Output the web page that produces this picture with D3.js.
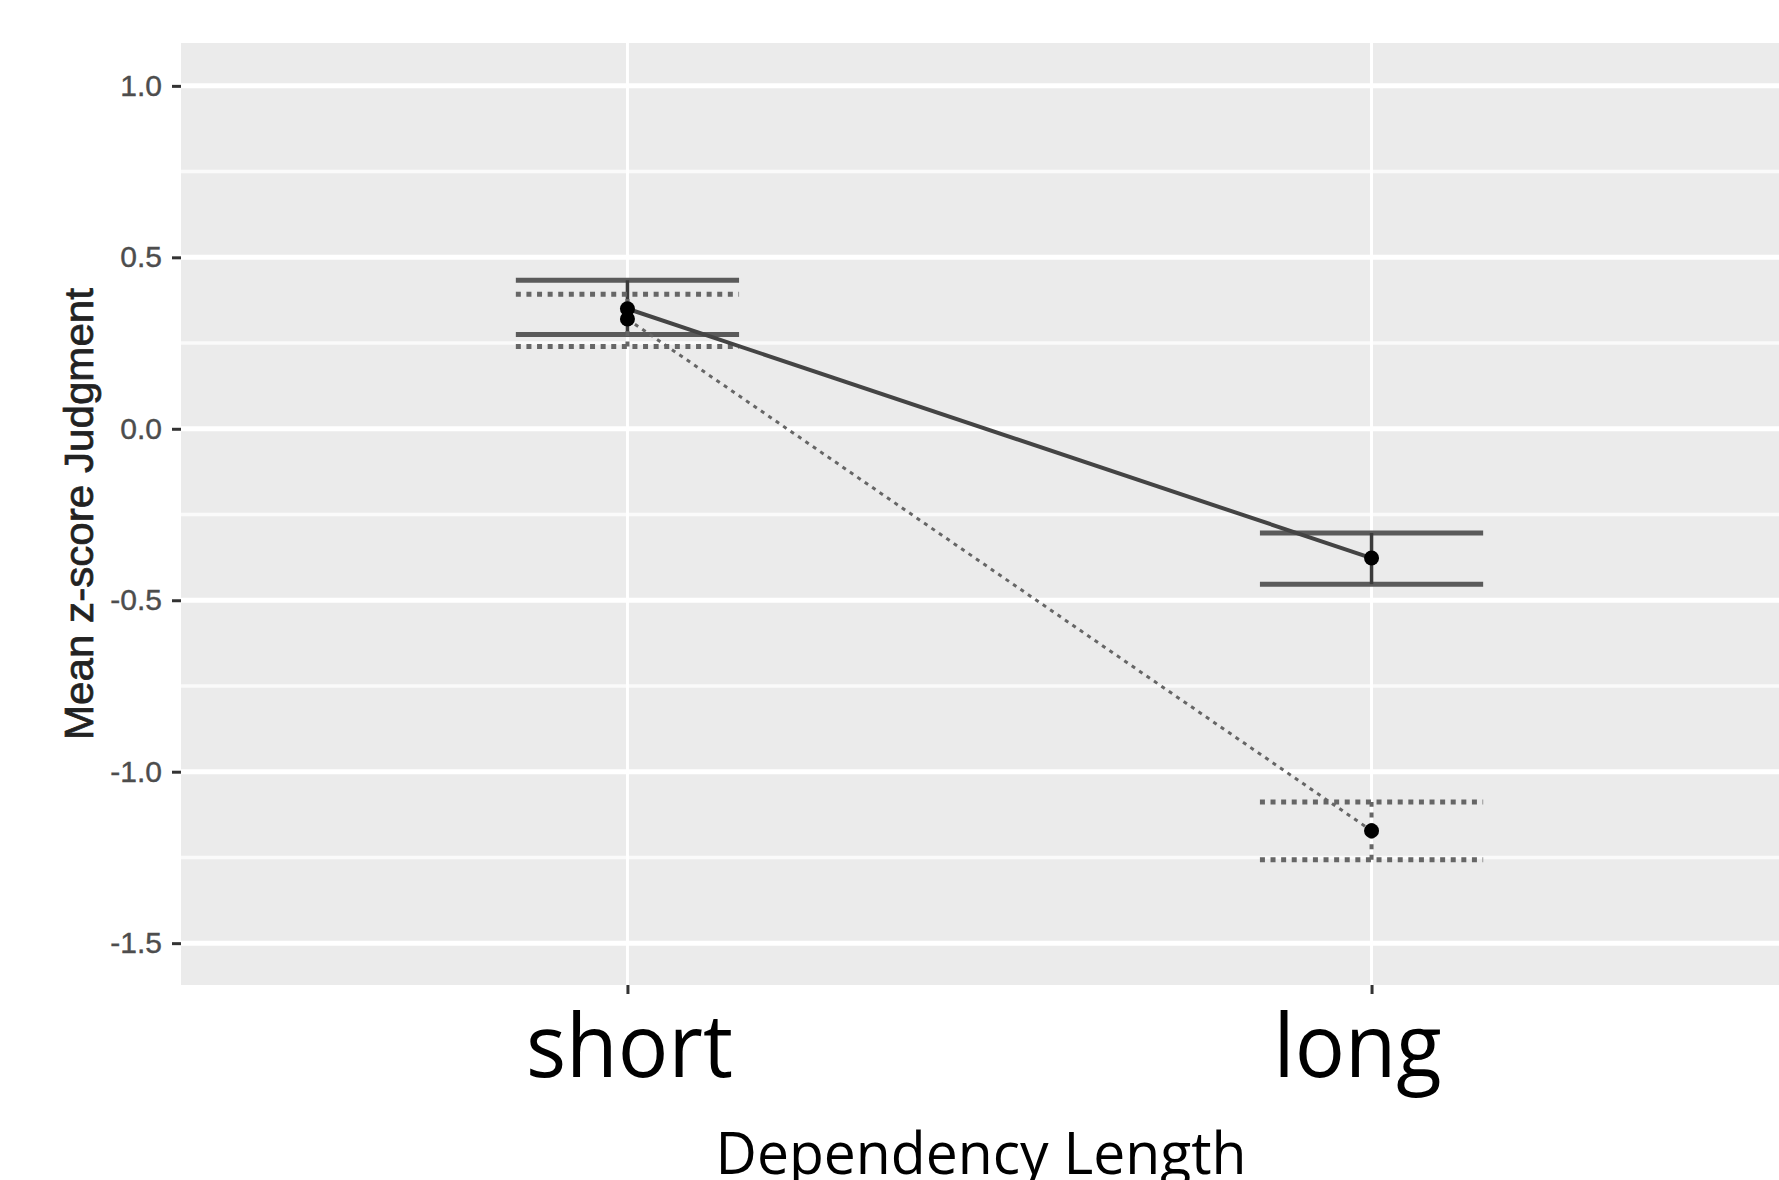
<!DOCTYPE html>
<html>
<head>
<meta charset="utf-8">
<script src="https://cdn.jsdelivr.net/npm/d3@7/dist/d3.min.js"></script>
<style>
  html, body { margin: 0; padding: 0; background: #fff; overflow: hidden; }
  svg { display: block; }
</style>
</head>
<body>
<svg id="chart" width="1779" height="1180"></svg>
<script>
// ---- data ----
const categories = ["short", "long"];
const solidMean  = [0.35, -0.377];
const solidLow   = [0.275, -0.453];
const solidHigh  = [0.433, -0.304];
const dottedMean = [0.32, -1.172];
const dottedLow  = [0.240, -1.257];
const dottedHigh = [0.392, -1.088];
const yTicks = [1.0, 0.5, 0.0, -0.5, -1.0, -1.5];
const yMinor = [0.75, 0.25, -0.25, -0.75, -1.25];
const yTitle = "Mean z-score Judgment";
const xTitle = "Dependency Length";

// ---- layout ----
const svg = d3.select("#chart");
const panel = { left: 181, right: 1818, top: 43, bottom: 985 };

const x = d3.scalePoint().domain(categories).range([panel.left, panel.right]).padding(0.6);
const y = d3.scaleLinear().domain([-1.622, 1.125]).range([panel.bottom, panel.top]);
const ebHalf = x.step() * 0.15;

// panel background
svg.append("rect")
  .attr("x", panel.left).attr("y", panel.top)
  .attr("width", panel.right - panel.left).attr("height", panel.bottom - panel.top)
  .attr("fill", "#ebebeb");

// grid
svg.append("g").selectAll("line").data(yMinor).join("line")
  .attr("x1", panel.left).attr("x2", panel.right)
  .attr("y1", d => y(d)).attr("y2", d => y(d))
  .attr("stroke", "#fafafa").attr("stroke-width", 3.5);
svg.append("g").selectAll("line").data(yTicks).join("line")
  .attr("x1", panel.left).attr("x2", panel.right)
  .attr("y1", d => y(d)).attr("y2", d => y(d))
  .attr("stroke", "#ffffff").attr("stroke-width", 5);
svg.append("g").selectAll("line").data(categories).join("line")
  .attr("x1", d => x(d)).attr("x2", d => x(d))
  .attr("y1", panel.top).attr("y2", panel.bottom)
  .attr("stroke", "#ffffff").attr("stroke-width", 3);

// y axis
const yAxis = d3.axisLeft(y).tickValues(yTicks).tickFormat(d3.format(".1f")).tickSize(9).tickPadding(10);
const gy = svg.append("g").attr("transform", `translate(${panel.left},0)`).call(yAxis);
gy.select(".domain").remove();
gy.selectAll(".tick line").attr("stroke", "#333").attr("stroke-width", 3);
gy.selectAll(".tick text")
  .attr("font-family", "'Liberation Sans', Arial, sans-serif")
  .attr("font-size", 30).attr("fill", "#4d4d4d")
  .attr("stroke", "#4d4d4d").attr("stroke-width", 0.4)
  .text(d => d3.format(".1f")(d).replace("−", "-"));

// x axis
const xAxis = d3.axisBottom(x).tickSize(9).tickFormat("");
const gx = svg.append("g").attr("transform", `translate(0,${panel.bottom})`).call(xAxis);
gx.select(".domain").remove();
gx.selectAll(".tick line").attr("stroke", "#333").attr("stroke-width", 3);

// x category labels (large)
const labelShift = { short: 2, long: -14 };
const labelWidth = { short: 207, long: 168 };
svg.append("g").selectAll("text").data(categories).join("text")
  .attr("x", d => x(d) + labelShift[d]).attr("y", 1077)
  .attr("text-anchor", "middle")
  .attr("font-family", "'Open Sans', sans-serif")
  .attr("font-size", 88).attr("fill", "#000")
  .attr("textLength", d => labelWidth[d]).attr("lengthAdjust", "spacingAndGlyphs")
  .text(d => d);

// axis titles
svg.append("text")
  .attr("x", 981).attr("y", 1174)
  .attr("text-anchor", "middle")
  .attr("font-family", "'Open Sans', sans-serif")
  .attr("font-size", 58).attr("fill", "#000")
  .attr("textLength", 531).attr("lengthAdjust", "spacingAndGlyphs")
  .text(xTitle);

svg.append("text")
  .attr("transform", `translate(93,${(panel.top + panel.bottom) / 2}) rotate(-90)`)
  .attr("text-anchor", "middle")
  .attr("font-family", "'Liberation Sans', Arial, sans-serif")
  .attr("font-size", 40).attr("fill", "#222")
  .attr("stroke", "#222").attr("stroke-width", 0.7)
  .attr("textLength", 452).attr("lengthAdjust", "spacingAndGlyphs")
  .text(yTitle);

// build series
const series = [
  { key: "solid", mean: solidMean, low: solidLow, high: solidHigh, dash: null },
  { key: "dotted", mean: dottedMean, low: dottedLow, high: dottedHigh, dash: "5,5.6" }
];

const marks = svg.append("g");

// error bars
series.forEach(s => {
  const pts = categories.map((c, i) => ({ c, m: s.mean[i], lo: s.low[i], hi: s.high[i] }));
  const g = marks.append("g");
  ["lo", "hi"].forEach(k => {
    g.selectAll("line." + k).data(pts).join("line")
      .attr("class", k)
      .attr("x1", d => x(d.c) - ebHalf).attr("x2", d => x(d.c) + ebHalf)
      .attr("y1", d => y(d[k])).attr("y2", d => y(d[k]))
      .attr("stroke", s.dash ? "#666" : "#5a5a5a")
      .attr("stroke-width", 5)
      .attr("stroke-dasharray", s.dash);
  });
  g.selectAll("line.v").data(pts).join("line")
    .attr("class", "v")
    .attr("x1", d => x(d.c)).attr("x2", d => x(d.c))
    .attr("y1", d => y(d.lo)).attr("y2", d => y(d.hi))
    .attr("stroke", s.dash ? "#666" : "#3a3a3a")
    .attr("stroke-width", s.dash ? 4 : 3.5)
    .attr("stroke-dasharray", s.dash);
});

// connecting lines
const line = d3.line().x(d => x(d.c)).y(d => y(d.m));
series.forEach(s => {
  const pts = categories.map((c, i) => ({ c, m: s.mean[i] }));
  marks.append("path")
    .datum(pts)
    .attr("d", line)
    .attr("fill", "none")
    .attr("stroke", s.dash ? "#666" : "#444")
    .attr("stroke-width", s.dash ? 3 : 4)
    .attr("stroke-dasharray", s.dash ? "4,5" : null);
});

// points
series.forEach(s => {
  marks.append("g").selectAll("circle").data(categories.map((c, i) => ({ c, m: s.mean[i] }))).join("circle")
    .attr("cx", d => x(d.c)).attr("cy", d => y(d.m))
    .attr("r", 7.5).attr("fill", "#000");
});
</script>
</body>
</html>
